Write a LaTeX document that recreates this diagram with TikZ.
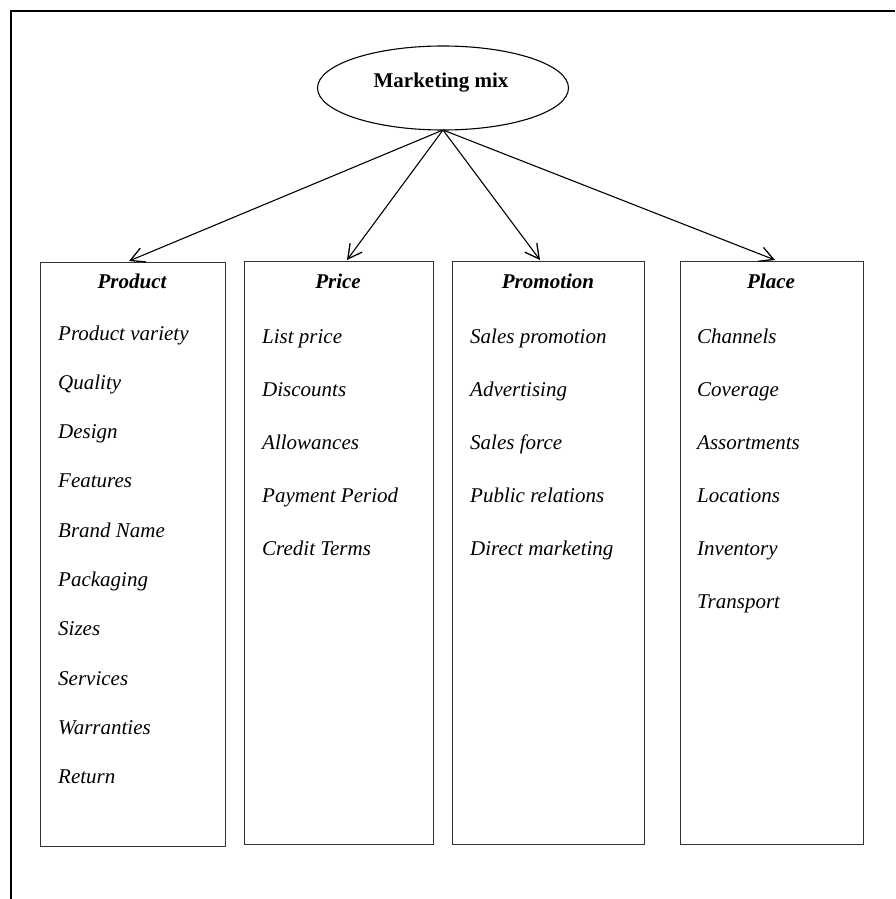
\documentclass[tikz,border=0pt]{standalone}
\usepackage{fontspec}
\setmainfont{Liberation Serif}
\usetikzlibrary{arrows.meta,shapes.geometric}
\begin{document}
\begin{tikzpicture}[x=1pt,y=-1pt,
  col/.style={draw=black!80,line width=1.4pt,inner sep=0pt,anchor=north west},
  item/.style={anchor=base west,inner sep=0pt,font=\fontsize{21}{24}\selectfont\itshape},
  head/.style={anchor=base,inner sep=0pt,font=\fontsize{21}{24}\selectfont\bfseries\itshape},
  arr/.style={line width=1.1pt,-{Straight Barb[length=14pt,width=15pt,line width=1.3pt]}}]
\useasboundingbox (0,0) rectangle (895,899);
\draw[line width=2.8pt] (11,899) -- (11,11) -- (895,11);
\node[draw,ellipse,line width=1.1pt,minimum width=251pt,minimum height=84pt,inner sep=0pt] (mm) at (443,88) {};
\node[anchor=base,inner sep=0pt,font=\fontsize{21}{24}\selectfont\bfseries] (mmt) at (441,87) {Marketing mix};
\node[col,minimum width=185pt,minimum height=584pt] (prod) at (40,262) {};
\node[col,minimum width=189pt,minimum height=583pt] (price) at (244,261) {};
\node[col,minimum width=192pt,minimum height=583pt] (promo) at (452,261) {};
\node[col,minimum width=183pt,minimum height=583pt] (place) at (680,261) {};
\coordinate (top) at (443,130);
\coordinate (aprod) at (129,261);
\coordinate (aprice) at (347,260);
\coordinate (apromo) at (540,260);
\coordinate (aplace) at (775,260);
\draw[arr] (top) -- (aprod);
\draw[arr] (top) -- (aprice);
\draw[arr] (top) -- (apromo);
\draw[arr] (top) -- (aplace);
\node[head] (hprod) at (132,288) {Product};
\node[head] (hprice) at (338,288) {Price};
\node[head] (hpromo) at (548,288) {Promotion};
\node[head] (hplace) at (771,288) {Place};
\foreach \t [count=\i] in {Product variety,Quality,Design,Features,Brand Name,Packaging,Sizes,Services,Warranties,Return}
  \node[item] (pr\i) at (58,{340+(\i-1)*49.3}) {\t};
\foreach \t [count=\i] in {List price,Discounts,Allowances,Payment Period,Credit Terms}
  \node[item] (pc\i) at (262,{343+(\i-1)*53}) {\t};
\foreach \t [count=\i] in {Sales promotion,Advertising,Sales force,Public relations,Direct marketing}
  \node[item] (po\i) at (470,{343+(\i-1)*53}) {\t};
\foreach \t [count=\i] in {Channels,Coverage,Assortments,Locations,Inventory,Transport}
  \node[item] (pl\i) at (697,{343+(\i-1)*53}) {\t};
\end{tikzpicture}
\end{document}
